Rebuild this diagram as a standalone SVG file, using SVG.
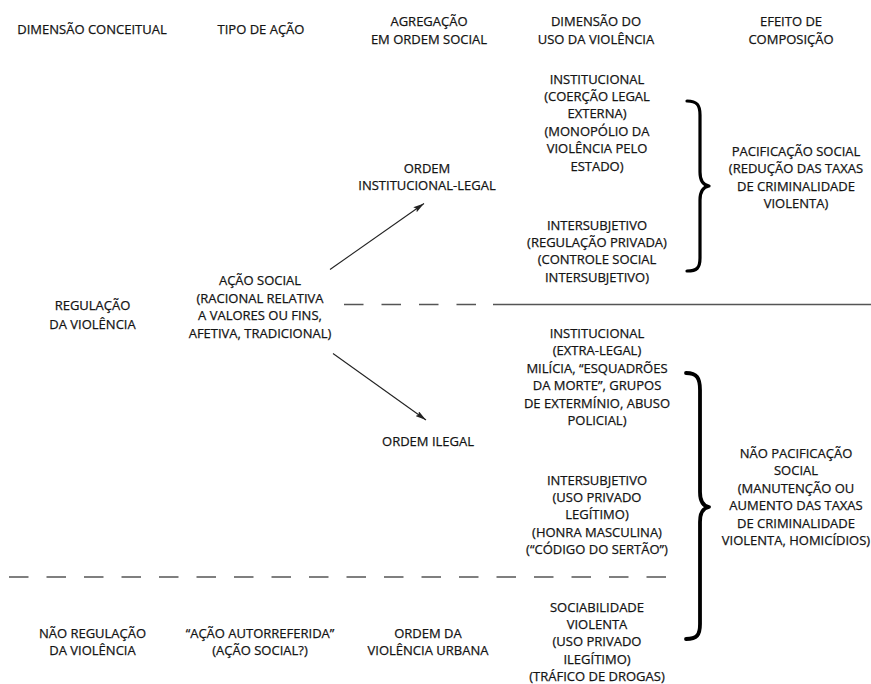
<svg xmlns="http://www.w3.org/2000/svg" width="871" height="684" viewBox="0 0 871 684">
<style>
text{font-family:"Open Sans","Liberation Sans",sans-serif;font-size:13px;fill:#141414;stroke:#141414;stroke-width:0.25;text-anchor:middle}
.sep{stroke:#555;stroke-width:1.3;fill:none}
.dash{stroke-dasharray:19.5 18}
.arrow{stroke:#222;stroke-width:1.1;fill:none;marker-end:url(#ah)}
.brace{stroke:#000;fill:none;stroke-linejoin:round;stroke-linecap:round}
</style>
<defs>
<marker id="ah" viewBox="0 0 11 6" refX="11" refY="3" markerWidth="11" markerHeight="6" markerUnits="userSpaceOnUse" orient="auto">
<path d="M0,0 L11,3 L0,6 L2,3 Z" fill="#222"/>
</marker>
</defs>
<rect width="871" height="684" fill="#fff"/>

<g id="headers">
<g id="h1"><text x="92" y="33.5">DIMENSÃO CONCEITUAL</text></g>
<g id="h2"><text x="261" y="33.5">TIPO DE AÇÃO</text></g>
<g id="h3"><text x="429" y="25.5">AGREGAÇÃO</text><text x="429" y="43.5">EM ORDEM SOCIAL</text></g>
<g id="h4"><text x="596" y="25.5">DIMENSÃO DO</text><text x="596" y="43.5">USO DA VIOLÊNCIA</text></g>
<g id="h5"><text x="791" y="25.5">EFEITO DE</text><text x="791" y="43.5">COMPOSIÇÃO</text></g>
</g>

<g id="regulacao"><text x="92.5" y="310">REGULAÇÃO</text><text x="92.5" y="328.5">DA VIOLÊNCIA</text></g>
<g id="acao-social">
<text x="260" y="285">AÇÃO SOCIAL</text>
<text x="260" y="302.5">(RACIONAL RELATIVA</text>
<text x="260" y="320">A VALORES OU FINS,</text>
<text x="260" y="337.5">AFETIVA, TRADICIONAL)</text>
</g>
<g id="ordem-inst"><text x="427" y="172.5">ORDEM</text><text x="427" y="190">INSTITUCIONAL-LEGAL</text></g>
<g id="ordem-ilegal"><text x="428" y="445.5">ORDEM ILEGAL</text></g>

<g id="inst-legal">
<text x="597" y="83.5">INSTITUCIONAL</text>
<text x="597" y="100.9">(COERÇÃO LEGAL</text>
<text x="597" y="118.3">EXTERNA)</text>
<text x="597" y="135.7">(MONOPÓLIO DA</text>
<text x="597" y="153.1">VIOLÊNCIA PELO</text>
<text x="597" y="170.5">ESTADO)</text>
</g>
<g id="inter-legal">
<text x="597" y="229.5">INTERSUBJETIVO</text>
<text x="597" y="246.9">(REGULAÇÃO PRIVADA)</text>
<text x="597" y="264.3">(CONTROLE SOCIAL</text>
<text x="597" y="281.7">INTERSUBJETIVO)</text>
</g>
<g id="inst-extra">
<text x="597" y="338">INSTITUCIONAL</text>
<text x="597" y="355.4">(EXTRA-LEGAL)</text>
<text x="597" y="372.8">MILÍCIA, “ESQUADRÕES</text>
<text x="597" y="390.2">DA MORTE”, GRUPOS</text>
<text x="597" y="407.6">DE EXTERMÍNIO, ABUSO</text>
<text x="597" y="425">POLICIAL)</text>
</g>
<g id="inter-ilegal">
<text x="597" y="484.5">INTERSUBJETIVO</text>
<text x="597" y="501.9">(USO PRIVADO</text>
<text x="597" y="519.3">LEGÍTIMO)</text>
<text x="597" y="536.7">(HONRA MASCULINA)</text>
<text x="597" y="554.1">(“CÓDIGO DO SERTÃO”)</text>
</g>

<g id="pacificacao">
<text x="796" y="156">PACIFICAÇÃO SOCIAL</text>
<text x="796" y="173.3">(REDUÇÃO DAS TAXAS</text>
<text x="796" y="190.6">DE CRIMINALIDADE</text>
<text x="796" y="208">VIOLENTA)</text>
</g>
<g id="nao-pacificacao">
<text x="796" y="458">NÃO PACIFICAÇÃO</text>
<text x="796" y="475.4">SOCIAL</text>
<text x="796" y="492.8">(MANUTENÇÃO OU</text>
<text x="796" y="510.2">AUMENTO DAS TAXAS</text>
<text x="796" y="527.6">DE CRIMINALIDADE</text>
<text x="796" y="545">VIOLENTA, HOMICÍDIOS)</text>
</g>

<g id="nao-regulacao"><text x="92.5" y="637.5">NÃO REGULAÇÃO</text><text x="92.5" y="655">DA VIOLÊNCIA</text></g>
<g id="acao-autorreferida"><text x="260" y="637.5">“AÇÃO AUTORREFERIDA”</text><text x="260" y="655">(AÇÃO SOCIAL?)</text></g>
<g id="ordem-urbana"><text x="428" y="637.5">ORDEM DA</text><text x="428" y="655">VIOLÊNCIA URBANA</text></g>
<g id="sociabilidade">
<text x="597" y="611.5">SOCIABILIDADE</text>
<text x="597" y="628.9">VIOLENTA</text>
<text x="597" y="646.3">(USO PRIVADO</text>
<text x="597" y="663.7">ILEGÍTIMO)</text>
<text x="597" y="681">(TRÁFICO DE DROGAS)</text>
</g>

<g id="connectors">
<line class="arrow" x1="330" y1="269.5" x2="424" y2="203.5"/>
<line class="arrow" x1="333" y1="353.5" x2="426" y2="420"/>
<line class="sep dash" x1="344" y1="304.5" x2="478" y2="304.5"/>
<line class="sep" x1="493" y1="304.5" x2="871" y2="304.5"/>
<line class="sep dash" x1="9" y1="577" x2="682" y2="577"/>
<path class="brace" stroke-width="3.2" d="M687,101 C697,101 700,105 700,115 L700,172 C700,180 703,185 709,186 C703,187 700,192 700,200 L700,258 C700,268 697,271 687,271"/>
<path class="brace" stroke-width="3.8" d="M686,373 C697,373 700,378 700,390 L700,492 C700,501 703,506 709,507 C703,508 700,513 700,522 L700,624 C700,635 697,639 686,639"/>
</g>
</svg>
